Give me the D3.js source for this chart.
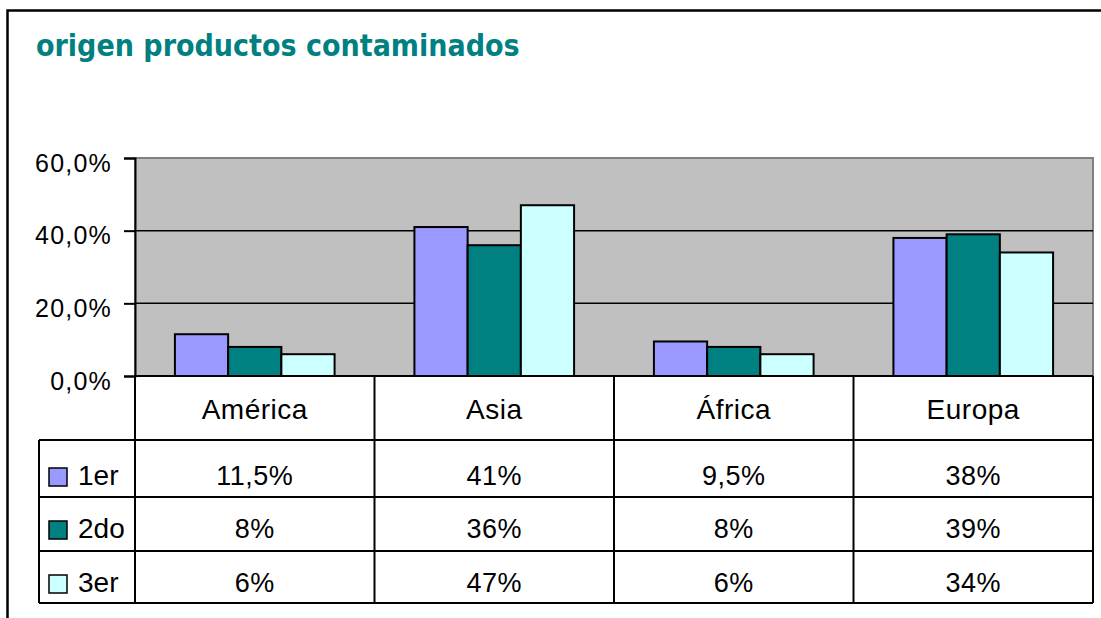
<!DOCTYPE html>
<html>
<head>
<meta charset="utf-8">
<script src="https://cdn.jsdelivr.net/npm/d3@7"></script>
<style>
  body { margin: 0; background: #fff; }
  text { font-family: "Liberation Sans", Arial, sans-serif; }
</style>
</head>
<body>
<div id="chart"></div>
<script>
// data
const categories = ["América", "Asia", "África", "Europa"];
const seriesNames = ["1er", "2do", "3er"];
const serie1 = [11.5, 41, 9.5, 38];
const serie2 = [8, 36, 8, 39];
const serie3 = [6, 47, 6, 34];
const yTicks = [0, 20, 40, 60];
const colors = ["#9999FF", "#008080", "#CCFFFF"];

const seriesValues = [serie1, serie2, serie3];

const width = 1101, height = 618;
const plot = { left: 135, right: 1093, top: 158, bottom: 376 };
const tableLeft = 39;
const rowLines = [376, 440, 497, 551, 603];

const svg = d3.select("#chart")
    .append("svg")
    .attr("width", width)
    .attr("height", height);

// outer frame
svg.append("rect")
    .attr("x", 7.5).attr("y", 10.5)
    .attr("width", 1110).attr("height", 640)
    .attr("fill", "#fff")
    .attr("stroke", "#000")
    .attr("stroke-width", 2.5);

// title
svg.append("text")
    .attr("x", 36).attr("y", 56)
    .attr("fill", "#008080")
    .attr("font-weight", "bold")
    .attr("font-size", 30)
    .style("font-family", "'DejaVu Sans Condensed', 'DejaVu Sans', sans-serif")
    .text("origen productos contaminados");

// scales
const x0 = d3.scaleBand()
    .domain(categories)
    .range([plot.left, plot.right]);
const x1 = d3.scaleBand()
    .domain(seriesNames)
    .range([0, x0.bandwidth()])
    .paddingOuter(0.75);
const y = d3.scaleLinear()
    .domain([0, 60])
    .range([plot.bottom, plot.top]);

const es = d3.formatLocale({ decimal: ",", thousands: ".", grouping: [3], currency: ["", "€"] });
const tickFmt = d => es.format(".1f")(d) + "%";
const cellFmt = d => (Number.isInteger(d) ? d : es.format(".1f")(d)) + "%";

// plot background
svg.append("rect")
    .attr("x", plot.left).attr("y", plot.top)
    .attr("width", plot.right - plot.left)
    .attr("height", plot.bottom - plot.top)
    .attr("fill", "#C0C0C0")
    .attr("stroke", "#808080")
    .attr("stroke-width", 2);

// gridlines
svg.append("g")
    .selectAll("line")
    .data(yTicks.filter(d => d > 0 && d < 60))
    .join("line")
    .attr("x1", plot.left).attr("x2", plot.right)
    .attr("y1", d => y(d)).attr("y2", d => y(d))
    .attr("stroke", "#000")
    .attr("stroke-width", 1.5);

// bars
const groups = svg.append("g")
    .selectAll("g")
    .data(categories)
    .join("g")
    .attr("transform", d => `translate(${x0(d)},0)`);
groups.selectAll("rect")
    .data((c, ci) => seriesNames.map((s, si) => ({ s, si, v: seriesValues[si][ci] })))
    .join("rect")
    .attr("x", d => x1(d.s))
    .attr("y", d => y(d.v))
    .attr("width", x1.bandwidth())
    .attr("height", d => y(0) - y(d.v))
    .attr("fill", d => colors[d.si])
    .attr("stroke", "#000")
    .attr("stroke-width", 2);

// y axis
const yAxis = svg.append("g")
    .attr("transform", `translate(${plot.left},0)`)
    .call(d3.axisLeft(y).tickValues(yTicks).tickFormat(tickFmt).tickSize(11).tickPadding(12));
yAxis.select(".domain").attr("stroke", "#000").attr("stroke-width", 2);
yAxis.selectAll(".tick line").attr("stroke", "#000").attr("stroke-width", 2);
yAxis.selectAll(".tick text")
    .attr("font-size", 25)
    .attr("dy", "0.52em")
    .attr("letter-spacing", 1.2)
    .attr("fill", "#000")
    .attr("font-family", "'Liberation Sans', Arial, sans-serif");

// data table
const table = svg.append("g");
const lineStyle = sel => sel.attr("stroke", "#000").attr("stroke-width", 2);

// horizontal lines
table.selectAll("line.h")
    .data(rowLines)
    .join("line")
    .attr("class", "h")
    .attr("x1", (d, i) => i < 1 ? plot.left : tableLeft)
    .attr("x2", plot.right)
    .attr("y1", d => d).attr("y2", d => d)
    .call(lineStyle);
// vertical lines at category boundaries
const vx = categories.map(c => x0(c)).concat([plot.right]);
table.selectAll("line.v")
    .data(vx)
    .join("line")
    .attr("class", "v")
    .attr("x1", d => d).attr("x2", d => d)
    .attr("y1", rowLines[0]).attr("y2", rowLines[4])
    .call(lineStyle);
table.append("line")
    .attr("x1", tableLeft).attr("x2", tableLeft)
    .attr("y1", rowLines[1]).attr("y2", rowLines[4])
    .call(lineStyle);

// header labels
table.selectAll("text.cat")
    .data(categories)
    .join("text")
    .attr("class", "cat")
    .attr("x", d => x0(d) + x0.bandwidth() / 2)
    .attr("y", 419)
    .attr("text-anchor", "middle")
    .attr("font-size", 28)
    .attr("letter-spacing", 0.5)
    .text(d => d);

// rows
const rowBase = [485, 538, 592];
seriesNames.forEach((s, si) => {
  const r = table.append("g");
  r.append("rect")
    .attr("x", 49).attr("y", rowBase[si] - 17)
    .attr("width", 18).attr("height", 18)
    .attr("fill", colors[si])
    .attr("stroke", "#000")
    .attr("stroke-width", 1.5);
  r.append("text")
    .attr("x", 78).attr("y", rowBase[si])
    .attr("font-size", 28)
    .text(s);
  r.selectAll("text.val")
    .data(seriesValues[si])
    .join("text")
    .attr("class", "val")
    .attr("x", (d, i) => x0(categories[i]) + x0.bandwidth() / 2)
    .attr("y", rowBase[si])
    .attr("text-anchor", "middle")
    .attr("font-size", 27)
    .attr("letter-spacing", 0.5)
    .text(d => cellFmt(d));
});
</script>
</body>
</html>
